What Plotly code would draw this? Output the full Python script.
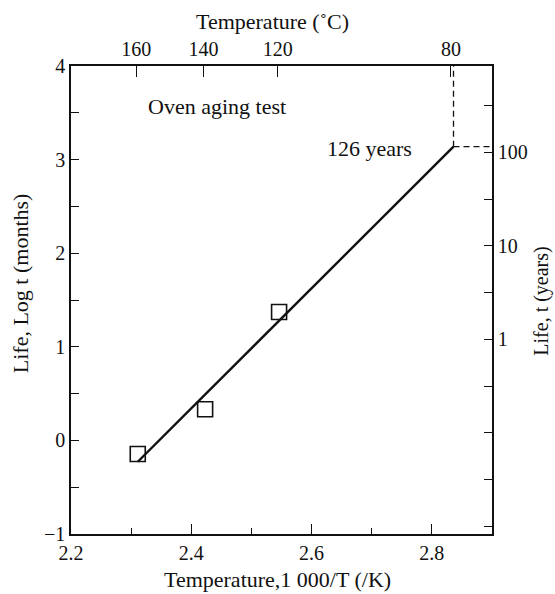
import math
import plotly.graph_objects as go

# ---- data ----
inv_temp = [2.311, 2.423, 2.546]          # 1000/T (/K)
log_life = [-0.145, 0.332, 1.372]         # log t (months)
fit_x = [2.311, 2.836]
fit_y = [-0.228, 3.138]
celsius_ticks = [160, 140, 120, 80]
year_ticks = [0.01, 0.0316, 0.1, 0.316, 1, 3.16, 10, 31.6, 100, 316]
year_labels = ["", "", "", "", "1", "", "10", "", "100", ""]
x_major = [2.2, 2.4, 2.6, 2.8]
y_major = [-1, 0, 1, 2, 3, 4]

FONT = "Liberation Serif"
BLACK = "#111111"

top_vals = [1000.0 / (c + 273.15) for c in celsius_ticks]
right_vals = [math.log10(12 * y) for y in year_ticks]

fig = go.Figure()

# fitted line
fig.add_trace(go.Scatter(x=fit_x, y=fit_y, mode="lines",
                         line=dict(color=BLACK, width=2.4),
                         hoverinfo="skip", showlegend=False))
# data points
fig.add_trace(go.Scatter(x=inv_temp, y=log_life, mode="markers",
                         marker=dict(symbol="square-open", size=15,
                                     color=BLACK, line=dict(width=1.6, color=BLACK)),
                         showlegend=False))
# dashed guide lines
fig.add_trace(go.Scatter(x=[fit_x[1], fit_x[1]], y=[fit_y[1], 4], mode="lines",
                         line=dict(color=BLACK, width=1.3, dash="6px,4px"),
                         hoverinfo="skip", showlegend=False))
fig.add_trace(go.Scatter(x=[fit_x[1], 2.9], y=[fit_y[1], fit_y[1]], mode="lines",
                         line=dict(color=BLACK, width=1.3, dash="6px,4px"),
                         hoverinfo="skip", showlegend=False))
# invisible traces to activate secondary axes
fig.add_trace(go.Scatter(x=[fit_x[1]], y=[fit_y[1]], xaxis="x2", yaxis="y",
                         mode="markers", opacity=0, hoverinfo="skip", showlegend=False))
fig.add_trace(go.Scatter(x=[fit_x[1]], y=[fit_y[1]], xaxis="x", yaxis="y2",
                         mode="markers", opacity=0, hoverinfo="skip", showlegend=False))

tickfont = dict(family=FONT, size=20, color=BLACK)
axis_common = dict(showgrid=False, zeroline=False, showline=True,
                   linecolor=BLACK, linewidth=1.6, ticks="inside",
                   tickcolor=BLACK, tickwidth=1.3, tickfont=tickfont)

fig.update_layout(
    width=555, height=594,
    margin=dict(l=71, r=63, t=66, b=60),
    paper_bgcolor="white", plot_bgcolor="white",
    showlegend=False,
    xaxis=dict(range=[2.2, 2.9], tickvals=x_major,
               ticktext=[f"{v:.1f}" for v in x_major], ticklen=10,
               minor=dict(dtick=0.1, tick0=2.2, ticks="inside", ticklen=6,
                          tickcolor=BLACK, tickwidth=1.3),
               **axis_common),
    xaxis2=dict(range=[2.2, 2.9], overlaying="x", side="top", anchor="y",
                tickvals=top_vals, ticktext=[str(c) for c in celsius_ticks],
                ticklen=11, **axis_common),
    yaxis=dict(range=[-1, 4], tickvals=y_major,
               ticktext=[("\u22121" if v == -1 else str(v)) for v in y_major],
               ticklen=8,
               minor=dict(dtick=0.5, tick0=-1, ticks="inside", ticklen=8,
                          tickcolor=BLACK, tickwidth=1.3),
               **axis_common),
    yaxis2=dict(range=[-1, 4], overlaying="y", side="right", anchor="x",
                tickvals=right_vals, ticktext=year_labels, ticklen=8,
                **axis_common),
)

ann_font = dict(family=FONT, size=22, color=BLACK)
fig.add_annotation(x=2.443, y=3.565, xref="x", yref="y", text="Oven aging test",
                   showarrow=False, font=ann_font)
fig.add_annotation(x=2.696, y=3.12, xref="x", yref="y", text="126 years",
                   showarrow=False, font=ann_font)
fig.add_annotation(x=0.479, y=1.0946, xref="paper", yref="paper",
                   text="Temperature (\u02daC)", showarrow=False, font=ann_font,
                   xanchor="center", yanchor="middle")
fig.add_annotation(x=0.49, y=-0.098, xref="paper", yref="paper",
                   text="Temperature,1 000/T (/K)", showarrow=False, font=ann_font,
                   xanchor="center", yanchor="middle")
fig.add_annotation(x=-0.121, y=0.536, xref="paper", yref="paper",
                   text="Life, Log t (months)", showarrow=False, font=ann_font,
                   textangle=-90, xanchor="center", yanchor="middle")
fig.add_annotation(x=1.117, y=0.497, xref="paper", yref="paper",
                   text="Life, t (years)", showarrow=False,
                   font=dict(family=FONT, size=20, color=BLACK),
                   textangle=-90, xanchor="center", yanchor="middle")

fig.write_html("out.html")
